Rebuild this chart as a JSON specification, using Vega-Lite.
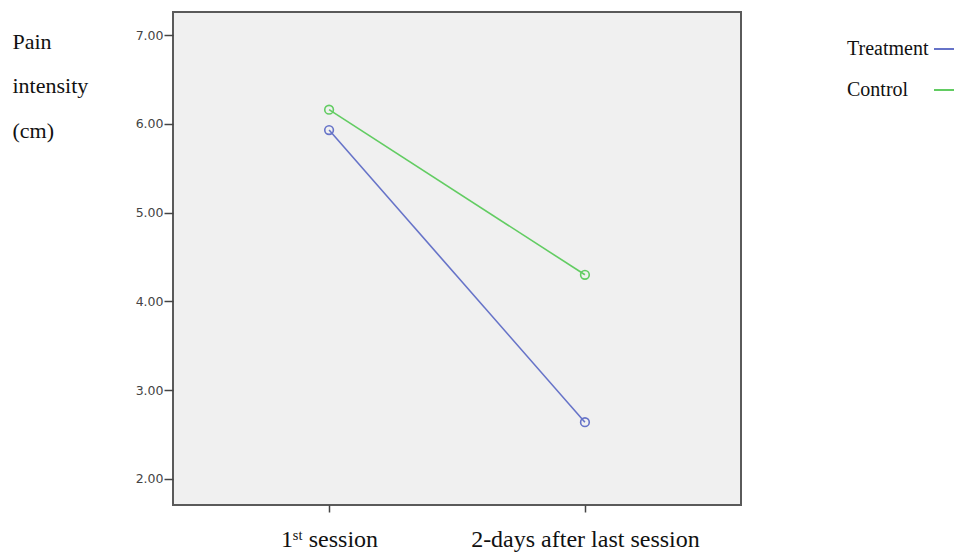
{
  "$schema": "https://vega.github.io/schema/vega-lite/v6.json",
  "autosize": {"type": "none"},
  "padding": {"left": 173, "top": 12, "right": 213, "bottom": 50},
  "width": 568,
  "height": 493,
  "background": "white",
  "config": {
    "view": {"fill": "#f0f0f0", "stroke": "#5a5a5a", "strokeWidth": 2}
  },
  "data": {
    "values": [
      {"session": "1ˢᵗ session", "group": "Treatment", "pain": 5.93},
      {"session": "2-days after last session", "group": "Treatment", "pain": 2.64},
      {"session": "1ˢᵗ session", "group": "Control", "pain": 6.16},
      {"session": "2-days after last session", "group": "Control", "pain": 4.30}
    ]
  },
  "encoding": {
    "x": {
      "field": "session",
      "type": "nominal",
      "sort": ["1ˢᵗ session", "2-days after last session"],
      "scale": {"type": "point", "padding": 0.61},
      "axis": {
        "title": null,
        "labelAngle": 0,
        "labelLimit": 0,
        "labelFont": "Liberation Serif",
        "labelFontSize": 24,
        "labelColor": "#111",
        "labelPadding": 15,
        "tickSize": 7,
        "tickColor": "#444",
        "tickWidth": 1.5,
        "domain": false,
        "grid": false
      }
    },
    "y": {
      "field": "pain",
      "type": "quantitative",
      "scale": {"domain": [1.707, 7.26], "nice": false, "zero": false},
      "axis": {
        "values": [2, 3, 4, 5, 6, 7],
        "format": ".2f",
        "grid": false,
        "domain": false,
        "tickSize": 9,
        "tickColor": "#444",
        "tickWidth": 1.5,
        "labelFont": "DejaVu Sans",
        "labelFontSize": 12.5,
        "labelColor": "#444",
        "labelPadding": 1,
        "title": ["Pain", "intensity", "(cm)"],
        "titleFont": "Liberation Serif",
        "titleFontSize": 22,
        "titleFontWeight": "normal",
        "titleColor": "#111",
        "titleAngle": 0,
        "titleAlign": "left",
        "titleBaseline": "top",
        "titleLineHeight": 44.5,
        "titleX": -161,
        "titleY": 19
      }
    },
    "color": {
      "field": "group",
      "type": "nominal",
      "scale": {"domain": ["Treatment", "Control"], "range": ["#6673c8", "#62cc62"]},
      "legend": {
        "title": null,
        "orient": "none",
        "legendX": 760,
        "legendY": 26,
        "symbolType": "stroke",
        "symbolSize": 400,
        "symbolStrokeWidth": 2,
        "labelAlign": "left",
        "labelOffset": -108,
        "labelLimit": 0,
        "labelFont": "Liberation Serif",
        "labelFontSize": 20,
        "labelColor": "#111",
        "rowPadding": 20,
        "encode": {
          "symbols": {
            "update": {
              "stroke": {"signal": "datum.value === 'Treatment' ? '#3b86c9' : '#5a9a3a'"}
            }
          }
        }
      }
    }
  },
  "layer": [
    {"mark": {"type": "line", "strokeWidth": 1.6}},
    {"mark": {"type": "point", "filled": false, "size": 75, "strokeWidth": 1.6, "opacity": 1}}
  ]
}
